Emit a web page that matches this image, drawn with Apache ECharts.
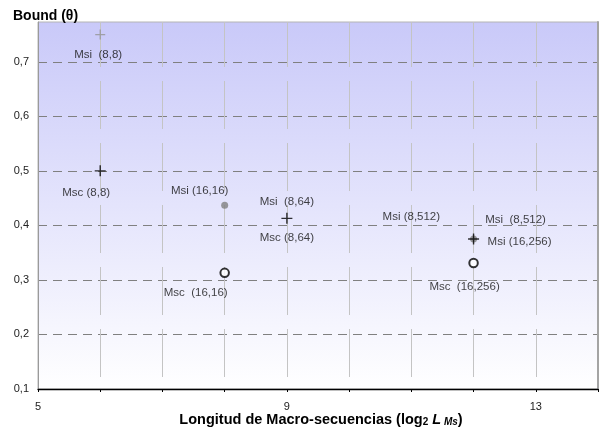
<!DOCTYPE html>
<html>
<head>
<meta charset="utf-8">
<script src="https://cdn.jsdelivr.net/npm/echarts@6/dist/echarts.min.js"></script>
<style>
  html, body { margin: 0; padding: 0; background: #fff; }
  #chart { width: 605px; height: 430px; }
</style>
</head>
<body>
<div id="chart"></div>
<script>
// Bound (θ) against log2 of the macro-sequence length
const msiPlusPts  = [[6, 0.750]];                          // grey cross
const mscPlusPts  = [[6, 0.500], [9, 0.413], [12, 0.375]]; // black cross
const msiDotPts   = [[8, 0.437], [12, 0.375]];             // grey dot
const mscRingPts  = [[8, 0.313], [12, 0.331]];             // open circle
const loosePts    = [[11, 0.415]];                         // label without a marker

const xTickLabels = [5, 9, 13];
const yTickValues = [0.1, 0.2, 0.3, 0.4, 0.5, 0.6, 0.7];

const labelTexts = [
  'Msi  (8,8)', 'Msc (8,8)', 'Msi (16,16)', 'Msc  (16,16)',
  'Msi  (8,64)', 'Msc (8,64)', 'Msi (8,512)', 'Msi  (8,512)',
  'Msi (16,256)', 'Msc  (16,256)'
];
const labelAnchors = [
  msiPlusPts[0], mscPlusPts[0], msiDotPts[0], mscRingPts[0],
  mscPlusPts[1], mscPlusPts[1], loosePts[0], mscPlusPts[2],
  mscPlusPts[2], mscRingPts[1]
];
const labelOffsets = [
  [-2, 20], [-14, 22], [-25, -14], [-29, 20],
  [0, -16], [0, 20], [0, 0], [42, -19],
  [46, 3], [-9, 24]
];

const FONT = '"Liberation Sans", Arial, sans-serif';
const CROSS = 'path://M0,4.6 L10,4.6 L10,5.9 L0,5.9 Z M4.35,0 L5.65,0 L5.65,10.5 L4.35,10.5 Z';
const Y_MIN = 0.1, Y_MAX = 0.773;

const chart = echarts.init(document.getElementById('chart'), null, { renderer: 'canvas' });

const labelData = labelTexts.map((t, i) => ({
  value: labelAnchors[i],
  label: { formatter: t, offset: labelOffsets[i] }
}));

chart.setOption({
  animation: false,
  title: {
    text: 'Bound (θ)',
    left: 8, top: 4,
    textStyle: { fontFamily: FONT, fontWeight: 'bold', fontSize: 14, color: '#000' }
  },
  grid: {
    left: 38, top: 22, right: 7, bottom: 41,
    outerBoundsMode: 'none',
    containLabel: false,
    show: true,
    borderColor: '#b4b4b4',
    borderWidth: 1,
    backgroundColor: {
      type: 'linear', x: 0, y: 0, x2: 0, y2: 1,
      colorStops: [
        { offset: 0, color: '#c9c9f9' },
        { offset: 1, color: '#ffffff' }
      ]
    }
  },
  xAxis: {
    type: 'value',
    min: 5, max: 14, interval: 1,
    name: '{b|Longitud de Macro-secuencias (log}{sub|2}{b| }{it|L}{itsub| Ms}{b|)}',
    nameLocation: 'middle',
    nameMoveOverlap: false,
    nameGap: 23,
    nameTextStyle: {
      padding: [0, 0, 0, 6],
      rich: {
        b: { fontFamily: FONT, fontWeight: 'bold', fontSize: 14.5, color: '#000' },
        sub: { fontFamily: FONT, fontWeight: 'bold', fontSize: 10, color: '#000', padding: [5, 0, 0, 0] },
        it: { fontFamily: FONT, fontWeight: 'bold', fontStyle: 'italic', fontSize: 14.5, color: '#000' },
        itsub: { fontFamily: FONT, fontWeight: 'bold', fontStyle: 'italic', fontSize: 10, color: '#000', padding: [5, 0, 0, 0] }
      }
    },
    axisLine: { show: true, onZero: false, lineStyle: { color: '#000', width: 1.3 } },
    axisTick: { show: true, length: 3, lineStyle: { color: '#000' } },
    axisLabel: {
      fontFamily: FONT, fontSize: 11, color: '#222', margin: 12,
      formatter: v => (xTickLabels.indexOf(v) >= 0 ? String(v) : '')
    },
    splitLine: {
      show: true, showMinLine: false, showMaxLine: false,
      lineStyle: { color: '#c4c4c4', width: 1, type: [48, 14], dashOffset: 3 }
    }
  },
  yAxis: [
    {
      type: 'value',
      min: Y_MIN, max: Y_MAX, interval: 0.1,
      axisLine: { show: true, onZero: false, lineStyle: { color: '#9a9a9a', width: 1 } },
      axisTick: { show: false },
      axisLabel: {
        fontFamily: FONT, fontSize: 11, color: '#222', margin: 9,
        showMaxLabel: false,
        formatter: v => {
          const hit = yTickValues.find(t => Math.abs(t - v) < 1e-6);
          return hit === undefined ? '' : hit.toFixed(1).replace('.', ',');
        }
      },
      splitLine: {
        show: true, showMinLine: false, showMaxLine: false,
        lineStyle: { color: '#808080', width: 1, type: [9, 6] }
      }
    },
    {
      // right-hand frame edge
      type: 'value', position: 'right',
      min: Y_MIN, max: Y_MAX, interval: 0.1,
      axisLine: { show: true, onZero: false, lineStyle: { color: '#a4a4a4', width: 2 } },
      axisTick: { show: false },
      axisLabel: { show: false },
      splitLine: { show: false }
    }
  ],
  series: [
    {
      type: 'scatter', name: 'Msi cross', data: msiPlusPts,
      symbol: CROSS, symbolSize: 10, itemStyle: { color: '#939393' }, z: 3
    },
    {
      type: 'scatter', name: 'Msi dot', data: msiDotPts,
      symbol: 'circle', symbolSize: 7, itemStyle: { color: '#7f7f7f' }, z: 3
    },
    {
      type: 'scatter', name: 'Msc cross', data: mscPlusPts,
      symbol: CROSS, symbolSize: 11, itemStyle: { color: '#000' }, z: 4
    },
    {
      type: 'scatter', name: 'Msc ring', data: mscRingPts,
      symbol: 'emptyCircle', symbolSize: 8.5,
      itemStyle: { color: '#000', borderWidth: 1 }, z: 4
    },
    {
      type: 'scatter', name: 'labels', data: labelData,
      symbol: 'circle', symbolSize: 1,
      itemStyle: { color: 'rgba(0,0,0,0)' },
      silent: true, z: 5,
      label: {
        show: true, position: 'inside',
        fontFamily: FONT, fontSize: 11.5, color: '#111'
      }
    }
  ]
});
</script>
</body>
</html>
